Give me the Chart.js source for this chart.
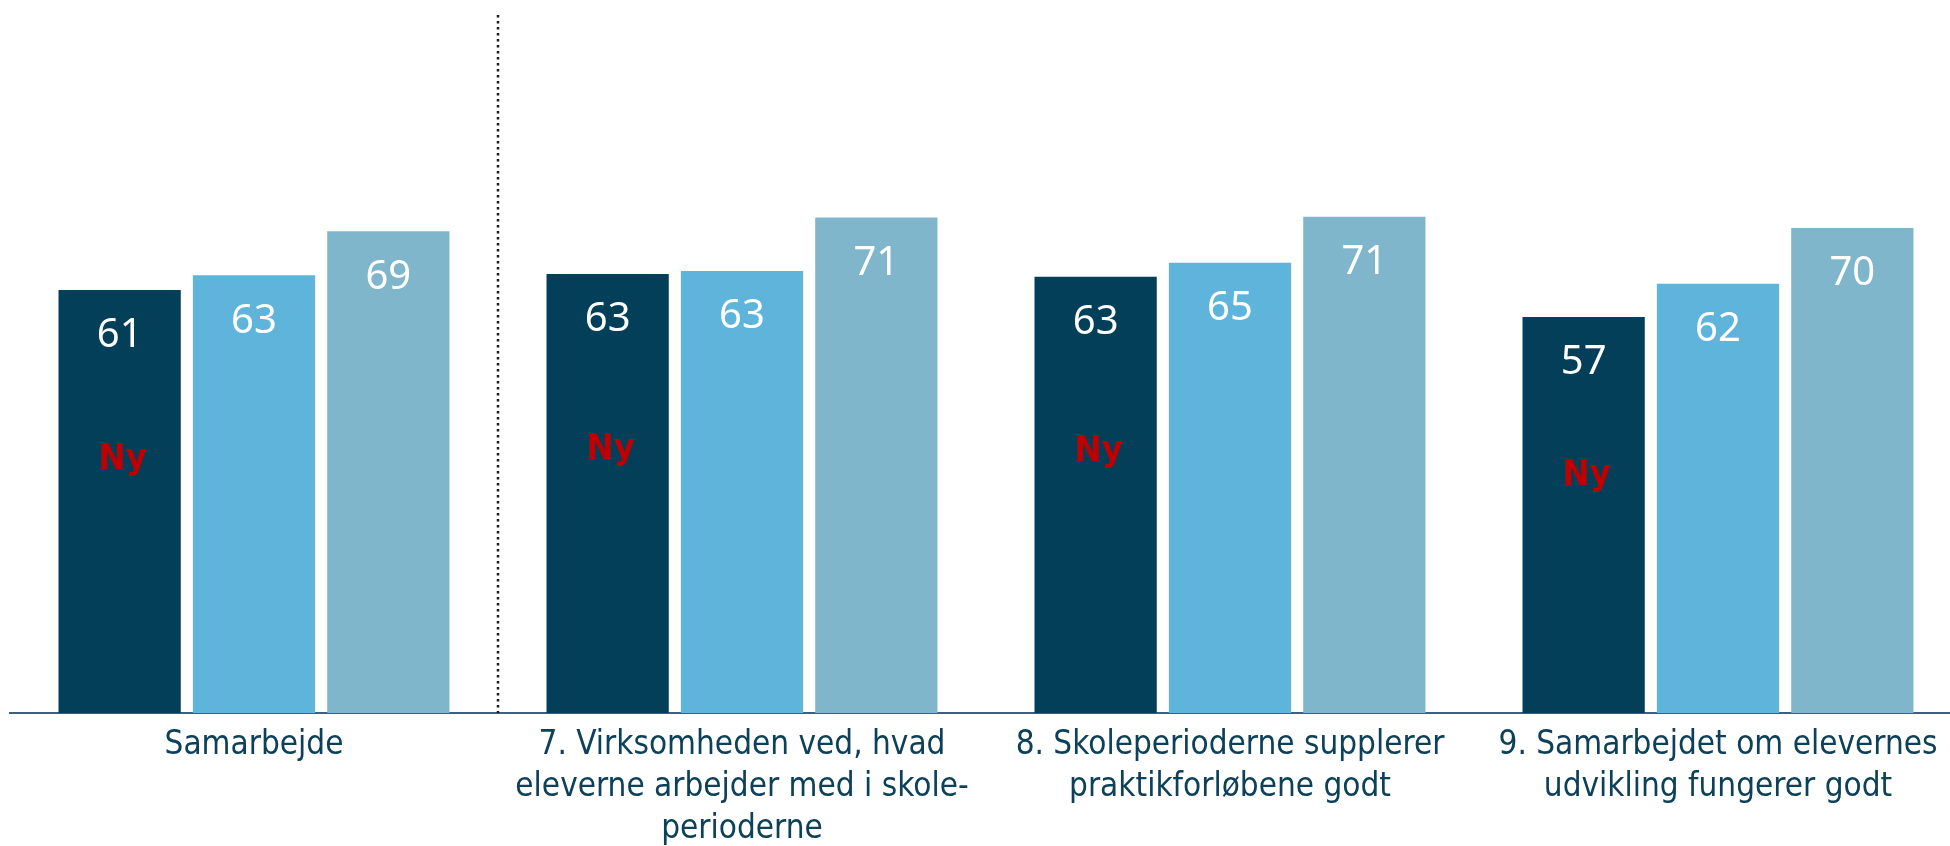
<!DOCTYPE html>
<html>
<head>
<meta charset="utf-8">
<script src="https://cdn.jsdelivr.net/npm/chart.js@4/dist/chart.umd.min.js"></script>
<style>
    html, body { margin: 0; padding: 0; background: #fff; overflow: hidden; }
    #wrap { width: 1962px; height: 846px; }
</style>
</head>
<body>
<div id="wrap"><canvas id="barChart" width="1962" height="846"></canvas></div>
<script>
const categories = [
    'Samarbejde',
    ['7. Virksomheden ved, hvad', 'eleverne arbejder med i skole-', 'perioderne'],
    ['8. Skoleperioderne supplerer', 'praktikforløbene godt'],
    ['9. Samarbejdet om elevernes', 'udvikling fungerer godt']
];
const seriesNames = ['Serie 1', 'Serie 2', 'Serie 3'];
const seriesA = [60.7, 63.0, 62.6, 56.8];
const seriesB = [62.8, 63.4, 64.6, 61.6];
const seriesC = [69.1, 71.1, 71.2, 69.6];
const newMarks = ['Ny', 'Ny', 'Ny', 'Ny']; // shown on the first series

const colors = ['#033f58', '#5eb4da', '#7fb6cb'];

// white value labels inside the top of each bar + red "Ny" markers
const barLabels = {
    id: 'barLabels',
    afterDatasetsDraw(chart) {
        const ctx = chart.ctx;
        const yScale = chart.scales.y;
        ctx.save();
        ctx.textAlign = 'center';
        ctx.textBaseline = 'middle';
        chart.data.datasets.forEach((ds, di) => {
            const meta = chart.getDatasetMeta(di);
            meta.data.forEach((bar, i) => {
                ctx.fillStyle = '#ffffff';
                ctx.font = '40px "Noto Sans", sans-serif';
                ctx.fillText(Math.round(ds.data[i]), bar.x, bar.y + 46);
                if (di === 0 && newMarks[i]) {
                    ctx.fillStyle = '#c00000';
                    ctx.font = 'bold 36px "DejaVu Sans Condensed", "DejaVu Sans", sans-serif';
                    const yy = yScale.getPixelForValue(ds.data[i] * 0.6);
                    ctx.fillText(newMarks[i], bar.x + 3, yy);
                }
            });
        });
        ctx.restore();
    }
};

// dotted divider between the first and the second group
const divider = {
    id: 'divider',
    afterDatasetsDraw(chart) {
        const x = chart.scales.x;
        const area = chart.chartArea;
        const px = (x.getPixelForValue(0) + x.getPixelForValue(1)) / 2;
        const ctx = chart.ctx;
        ctx.save();
        ctx.strokeStyle = '#1a1a1a';
        ctx.lineWidth = 2.5;
        ctx.setLineDash([2.5, 3.5]);
        ctx.beginPath();
        ctx.moveTo(px, area.top - 1);
        ctx.lineTo(px, area.bottom);
        ctx.stroke();
        ctx.restore();
    }
};

const ctx = document.getElementById('barChart').getContext('2d');
new Chart(ctx, {
    type: 'bar',
    data: {
        labels: categories,
        datasets: [seriesA, seriesB, seriesC].map((d, k) => ({
            label: seriesNames[k],
            data: d,
            backgroundColor: colors[k],
            borderWidth: 0,
            categoryPercentage: 0.826,
            barPercentage: 0.91
        }))
    },
    options: {
        responsive: false,
        animation: false,
        layout: { padding: { left: 10, right: 0, top: 16, bottom: 0 } },
        plugins: {
            legend: { display: false },
            tooltip: { enabled: false }
        },
        scales: {
            x: {
                grid: { display: false, drawTicks: false },
                border: { display: true, color: '#3f5f80', width: 2 },
                ticks: {
                    color: '#0d4159',
                    padding: 11,
                    maxRotation: 0,
                    autoSkip: false,
                    font: { family: '"DejaVu Sans Condensed", "DejaVu Sans", sans-serif', size: 33, lineHeight: '42px' }
                },
                afterFit(scale) { scale.height = 133; }
            },
            y: {
                display: false,
                min: 0,
                max: 100
            }
        }
    },
    plugins: [barLabels, divider]
});
</script>
</body>
</html>
